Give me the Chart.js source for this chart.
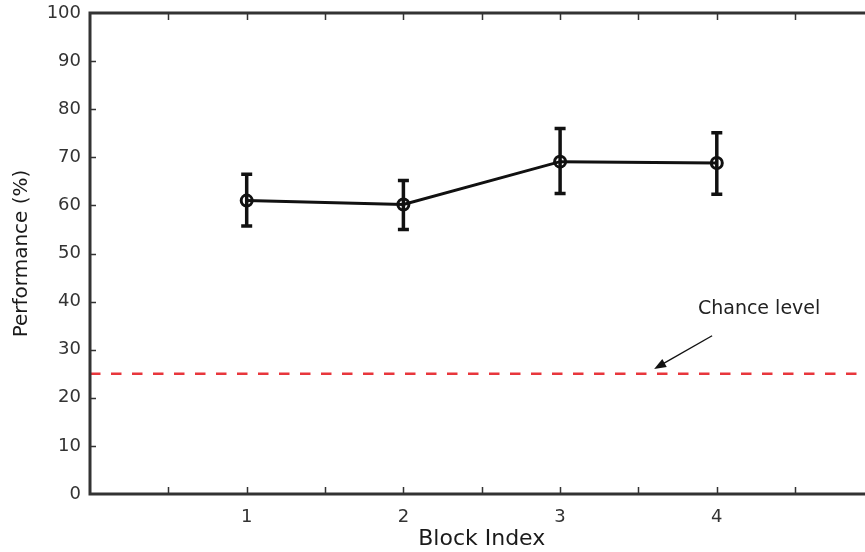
<!DOCTYPE html>
<html>
<head>
<meta charset="utf-8">
<script src="https://cdn.jsdelivr.net/npm/chart.js@4/dist/chart.umd.min.js"></script>
<style>
html, body { margin: 0; padding: 0; overflow: hidden; background: #fff; }
canvas { display: block; }
</style>
</head>
<body>
<canvas id="perfChart" width="882" height="552"></canvas>
<script>
// data
var blocks = [1, 2, 3, 4];
var performance = [61.0, 60.2, 69.1, 68.8];
var errUpper = [66.5, 65.2, 76.0, 75.1];
var errLower = [55.7, 55.0, 62.5, 62.3];
var chanceLevel = 25;
var xLabelValues = [1, 2, 3, 4];

// "Chance level" note, in data units
var noteText = "Chance level";
var noteAt = { x: 4.27, y: 38.5 };
var arrowFrom = { x: 3.97, y: 32.9 };
var arrowTo = { x: 3.6, y: 26.0 };

var axisColor = '#333';
var fontFamily = '"DejaVu Sans", sans-serif';

var errorBars = {
    id: 'errorBars',
    beforeDatasetsDraw: function (chart) {
        var c = chart.ctx, xs = chart.scales.x, ys = chart.scales.y;
        c.save();
        c.strokeStyle = '#111';
        c.lineWidth = 3.5;
        blocks.forEach(function (b, i) {
            var x = xs.getPixelForValue(b);
            var yt = ys.getPixelForValue(errUpper[i]);
            var yb = ys.getPixelForValue(errLower[i]);
            c.beginPath();
            c.moveTo(x, yt); c.lineTo(x, yb);
            c.moveTo(x - 5.5, yt); c.lineTo(x + 5.5, yt);
            c.moveTo(x - 5.5, yb); c.lineTo(x + 5.5, yb);
            c.stroke();
        });
        c.restore();
    }
};

var frame = {
    id: 'frame',
    afterDraw: function (chart) {
        var a = chart.chartArea, c = chart.ctx, xs = chart.scales.x, ys = chart.scales.y;
        c.save();
        c.strokeStyle = axisColor;
        c.lineWidth = 1.5;
        c.beginPath();
        ys.ticks.forEach(function (t) {
            if (t.value <= ys.min || t.value >= ys.max) return;
            var y = Math.round(ys.getPixelForValue(t.value)) + 0.5;
            c.moveTo(a.left, y); c.lineTo(a.left + 6, y);
            c.moveTo(a.right, y); c.lineTo(a.right - 6, y);
        });
        xs.ticks.forEach(function (t) {
            if (t.value <= xs.min || t.value >= xs.max) return;
            var x = Math.round(xs.getPixelForValue(t.value)) + 0.5;
            c.moveTo(x, a.bottom); c.lineTo(x, a.bottom - 7);
            c.moveTo(x, a.top); c.lineTo(x, a.top + 7);
        });
        c.stroke();
        c.lineWidth = 3;
        c.strokeRect(a.left, a.top, a.right - a.left, a.bottom - a.top);

        // annotation
        c.fillStyle = '#222';
        c.font = '19px ' + fontFamily;
        c.textAlign = 'center';
        c.textBaseline = 'middle';
        c.fillText(noteText, xs.getPixelForValue(noteAt.x), ys.getPixelForValue(noteAt.y));
        var x0 = xs.getPixelForValue(arrowFrom.x), y0 = ys.getPixelForValue(arrowFrom.y);
        var x1 = xs.getPixelForValue(arrowTo.x), y1 = ys.getPixelForValue(arrowTo.y);
        var ang = Math.atan2(y1 - y0, x1 - x0);
        c.strokeStyle = '#111';
        c.lineWidth = 1.4;
        c.beginPath();
        c.moveTo(x0, y0);
        c.lineTo(x1 - 8 * Math.cos(ang), y1 - 8 * Math.sin(ang));
        c.stroke();
        c.fillStyle = '#111';
        c.beginPath();
        c.moveTo(x1, y1);
        c.lineTo(x1 - 12 * Math.cos(ang) + 4.5 * Math.sin(ang), y1 - 12 * Math.sin(ang) - 4.5 * Math.cos(ang));
        c.lineTo(x1 - 12 * Math.cos(ang) - 4.5 * Math.sin(ang), y1 - 12 * Math.sin(ang) + 4.5 * Math.cos(ang));
        c.closePath();
        c.fill();
        c.restore();
    }
};

var ctx = document.getElementById('perfChart').getContext('2d');
var myChart = new Chart(ctx, {
    type: 'line',
    data: {
        datasets: [{
            label: 'Chance level',
            data: [{ x: 0, y: chanceLevel }, { x: 5, y: chanceLevel }],
            borderColor: '#e8363c',
            borderWidth: 2.5,
            borderDash: [10.5, 10.5],
            pointRadius: 0
        }, {
            label: 'Performance',
            data: blocks.map(function (b, i) { return { x: b, y: performance[i] }; }),
            borderColor: '#111',
            borderWidth: 3,
            pointRadius: 5.5,
            pointBorderWidth: 3,
            pointBorderColor: '#111',
            pointBackgroundColor: 'rgba(0,0,0,0)',
            tension: 0
        }]
    },
    options: {
        responsive: false,
        animation: false,
        devicePixelRatio: 1,
        layout: { padding: { top: 13, right: 5.5, left: 0, bottom: 0 } },
        plugins: { legend: { display: false }, tooltip: { enabled: false } },
        scales: {
            x: {
                type: 'linear',
                min: 0, max: 5,
                grid: { display: false, drawTicks: false },
                border: { display: false },
                ticks: {
                    stepSize: 0.5,
                    autoSkip: false,
                    maxRotation: 0,
                    padding: 13,
                    color: '#333',
                    font: { family: fontFamily, size: 18 },
                    callback: function (v) { return xLabelValues.indexOf(v) >= 0 ? String(v) : ''; }
                },
                title: {
                    display: true,
                    text: 'Block Index',
                    color: '#1a1a1a',
                    font: { family: fontFamily, size: 22 },
                    padding: { top: 0, bottom: 0 }
                },
                afterFit: function (s) { s.height = 58; s.paddingLeft = 0; s.paddingRight = 0; }
            },
            y: {
                min: 0, max: 100,
                grid: { display: false, drawTicks: false },
                border: { display: false },
                ticks: {
                    stepSize: 10,
                    padding: 9,
                    color: '#333',
                    font: { family: fontFamily, size: 18 }
                },
                title: {
                    display: true,
                    text: 'Performance (%)',
                    color: '#1a1a1a',
                    font: { family: fontFamily, size: 20 },
                    padding: { top: 10, bottom: 0 }
                },
                afterFit: function (s) { s.width = 90; s.paddingTop = 0; s.paddingBottom = 0; }
            }
        }
    },
    plugins: [errorBars, frame]
});
</script>
</body>
</html>
